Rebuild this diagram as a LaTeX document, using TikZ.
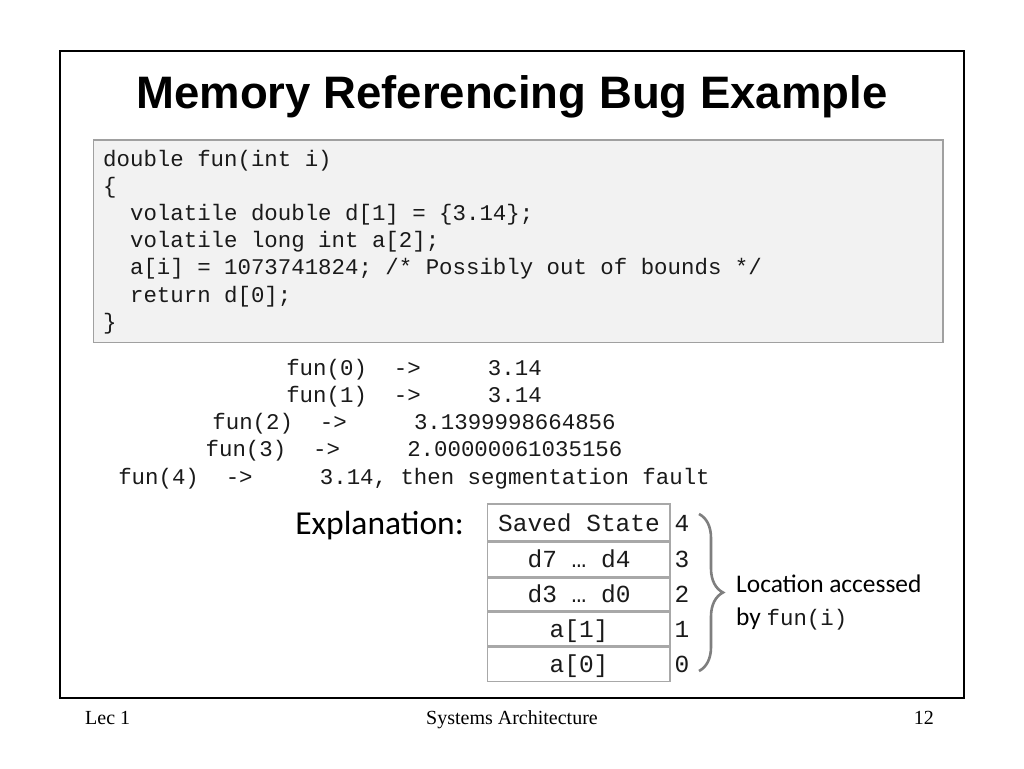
\documentclass[tikz,border=0pt]{standalone}
\usepackage{fontspec}
\setmainfont{Liberation Serif}
\setmonofont{Liberation Mono}
\newfontfamily\titlefont{Liberation Sans}
\newfontfamily\calibrifont{Carlito}
\usetikzlibrary{decorations.pathreplacing}
\definecolor{codefill}{HTML}{F2F2F2}
\definecolor{codeline}{HTML}{A0A0A0}
\definecolor{cellline}{HTML}{A8A8A8}
\definecolor{bracecol}{HTML}{7F7F7F}
\definecolor{monotext}{HTML}{1A1A1A}
\tikzset{
  code/.style={inner sep=0pt, anchor=base west, text=monotext, font=\fontsize{22.4}{27.2}\selectfont\ttfamily},
  res/.style={inner sep=0pt, anchor=base, text=monotext, font=\fontsize{22.4}{27}\selectfont\ttfamily},
  cell/.style={inner sep=0pt, anchor=base, text=monotext, font=\fontsize{24.5}{28}\selectfont\ttfamily},
  idx/.style={inner sep=0pt, anchor=base, text=monotext, font=\fontsize{24.5}{28}\selectfont\ttfamily},
  foot/.style={inner sep=0pt, font=\fontsize{20}{23}\selectfont},
  sep/.style={draw=cellline, line width=3pt},
}
\begin{document}
\begin{tikzpicture}[x=1pt,y=-1pt]
\useasboundingbox (0,0) rectangle (1024,768);
\fill[white] (0,0) rectangle (1024,768);
% frame
\draw[line width=2pt] (60,51) rectangle (964,698);
% title
\node[inner sep=0pt, anchor=base, font=\fontsize{45.5}{50}\selectfont\titlefont\bfseries] (title) at (512,108) {Memory Referencing Bug Example};
% code box
\draw[fill=codefill, draw=codeline, line width=1.2pt] (93.5,140) rectangle (943,342.5);
\node[code] (l1) at (103,166) {double fun(int i)};
\node[code] (l2) at (103,193.2) {\{};
\node[code] (l3) at (103,220.4) {~~volatile double d[1] = \{3.14\};};
\node[code] (l4) at (103,247.6) {~~volatile long int a[2];};
\node[code] (l5) at (103,274.8) {~~a[i] = 1073741824; /* Possibly out of bounds */};
\node[code] (l6) at (103,302) {~~return d[0];};
\node[code] (l7) at (103,329.2) {\}};
% results
\node[res] (r0) at (414,375) {fun(0)~~->~~~~~3.14};
\node[res] (r1) at (414,402) {fun(1)~~->~~~~~3.14};
\node[res] (r2) at (414,429) {fun(2)~~->~~~~~3.1399998664856};
\node[res] (r3) at (414,456) {fun(3)~~->~~~~~2.00000061035156};
\node[res] (r4) at (414,484) {fun(4)~~->~~~~~3.14, then segmentation fault};
% explanation
\node[inner sep=0pt, anchor=base east, font=\fontsize{33.5}{38}\selectfont\calibrifont] (expl) at (464,534) {Explanation:};
% table
\draw[draw=cellline, line width=1.2pt] (487.5,504) rectangle (670,681.5);
\draw[sep] (487.5,541) -- (670,541);
\draw[sep] (487.5,577) -- (670,577);
\draw[sep] (487.5,611) -- (670,611);
\draw[sep] (487.5,646) -- (670,646);
\node[cell] (c4) at (579,531) {Saved State};
\node[cell] (c3) at (579,567) {d7 … d4};
\node[cell] (c2) at (579,602) {d3 … d0};
\node[cell] (c1) at (579,637) {a[1]};
\node[cell] (c0) at (579,672) {a[0]};
\node[idx] (i4) at (682,531) {4};
\node[idx] (i3) at (682,567) {3};
\node[idx] (i2) at (682,602) {2};
\node[idx] (i1) at (682,637) {1};
\node[idx] (i0) at (682,672) {0};
% brace
\coordinate (btop) at (699,514);
\coordinate (bbot) at (699,671);
\draw[draw=bracecol, line width=2.6pt, decorate, decoration={brace, amplitude=24pt}] (btop) -- (bbot);
\node[inner sep=0pt, anchor=base west, font=\fontsize{25.4}{28}\selectfont\calibrifont] (loc1) at (736,592) {Location accessed};
\node[inner sep=0pt, anchor=base west, font=\fontsize{25.4}{28}\selectfont\calibrifont] (loc2) at (736,625) {by {\fontsize{22.4}{26}\selectfont\ttfamily\color{monotext} fun(i)}};
% footer
\node[foot, anchor=base west] (f1) at (85,724) {Lec 1};
\node[foot, anchor=base] (f2) at (512,724) {Systems Architecture};
\node[foot, anchor=base east] (f3) at (934,724) {12};
\end{tikzpicture}
\end{document}
